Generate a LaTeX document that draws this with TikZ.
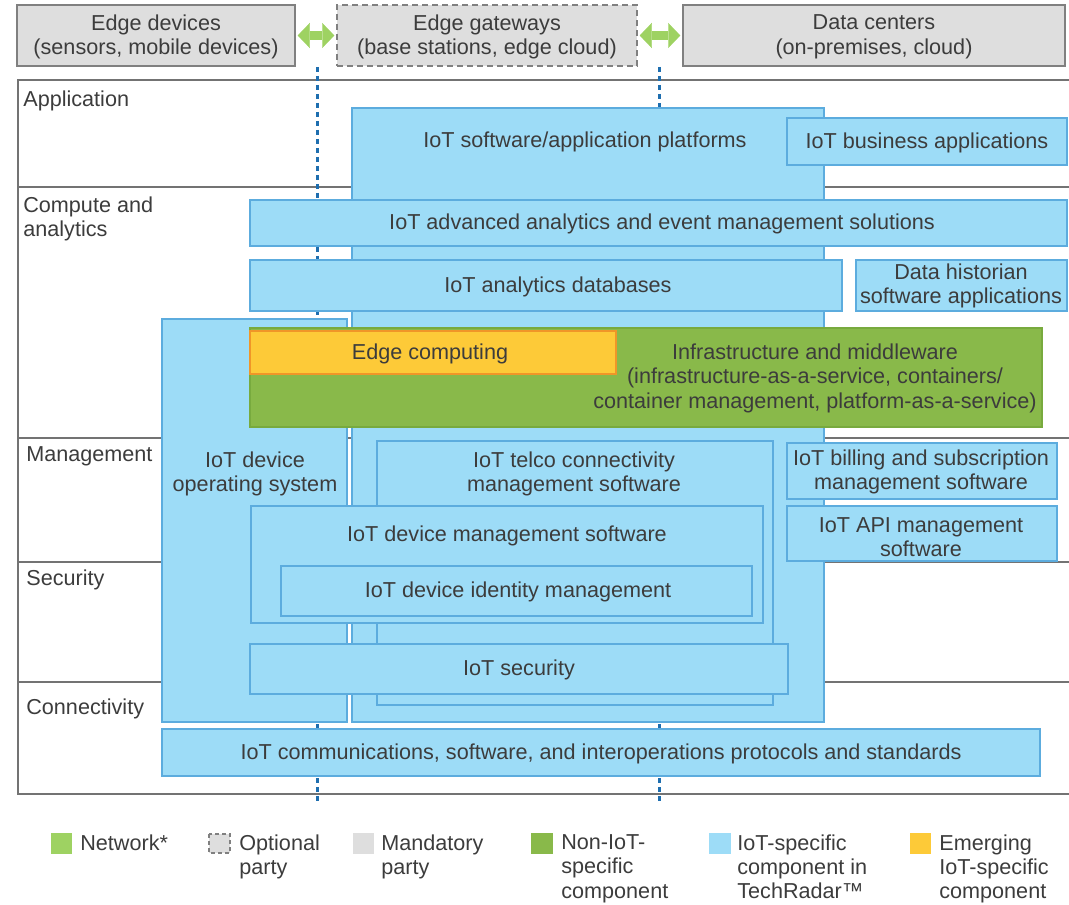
\documentclass[tikz,border=0pt]{standalone}
\usepackage{fontspec}
\setmainfont{Liberation Sans}
\usetikzlibrary{arrows.meta}

\definecolor{iotblue}{RGB}{157,220,247}
\definecolor{iotline}{RGB}{92,172,222}
\definecolor{nongreen}{RGB}{137,185,74}
\definecolor{nonline}{RGB}{120,170,62}
\definecolor{emyellow}{RGB}{253,202,56}
\definecolor{emline}{RGB}{240,150,40}
\definecolor{netgreen}{RGB}{158,210,98}
\definecolor{partygrey}{RGB}{222,222,222}
\definecolor{partyline}{RGB}{128,128,128}
\definecolor{layerline}{RGB}{115,115,115}
\definecolor{dashblue}{RGB}{30,110,175}
\definecolor{txtgrey}{RGB}{60,60,60}

\tikzset{
  iot/.style={fill=iotblue,draw=iotline,line width=0.3mm},
  nonIoT/.style={fill=nongreen,draw=nonline,line width=0.3mm},
  emerging/.style={fill=emyellow,draw=emline,line width=0.4mm},
  lbl/.style={text=txtgrey,font=\fontsize{12.3}{13.9}\selectfont,align=center,inner sep=0pt},
  boxlbl/.style={lbl,yshift=-0.4mm},
  layerlbl/.style={lbl,align=left,anchor=north west},
  keylbl/.style={lbl,align=left,anchor=north west},
  party/.style={lbl,fill=partygrey,draw=partyline,line width=0.3mm,minimum height=12.2mm,text depth=0.3mm},
  network/.style={draw=netgreen,line width=1.8mm,
    {Triangle[length=2.4mm,width=5mm,line width=0.1pt]}-{Triangle[length=2.4mm,width=5mm,line width=0.1pt]},
    shorten <=0.4mm,shorten >=0.4mm},
  netline/.style={draw=dashblue,line width=0.6mm,dash pattern=on 1mm off 0.8mm},
  layer/.style={draw=layerline,line width=0.4mm},
}

\begin{document}
\begin{tikzpicture}[x=0.2mm,y=-0.2mm]
\useasboundingbox (0,0) rectangle (1069,905);

% layers
\draw[layer] (1069,80) -- (18,80) -- (18,794) -- (1069,794);
\foreach \y in {187,438,562,682}{
	\draw[layer] (18,\y) -- (1069,\y);
}
\node[layerlbl] (app) at (23,90) {Application};
\node[layerlbl] (compute) at (23,196) {Compute and\\analytics};
\node[layerlbl] (mgmt) at (26,446) {Management};
\node[layerlbl] (sec) at (26,569) {Security};
\node[layerlbl] (conn) at (26,698) {Connectivity};

% network lines
\coordinate (net1top) at (317,67);
\coordinate (net1bot) at (317,802);
\coordinate (net2top) at (659,67);
\coordinate (net2bot) at (659,802);
\draw[netline] (net1top) -- (net1bot);
\draw[netline] (net2top) -- (net2bot);

% parties
\node[party,minimum width=55.6mm] (edgedev) at (156,35.5) {Edge devices\\(sensors, mobile devices)};
\node[party,dashed,dash pattern=on 1.2mm off 0.8mm,minimum width=60mm] (gateway) at (487,35.5) {Edge gateways\\(base stations, edge cloud)};
\node[party,minimum width=76.4mm] (datacenter) at (874,35.5) {Data centers\\(on-premises, cloud)};
\draw[network] (edgedev) -- (gateway);
\draw[network] (gateway) -- (datacenter);

% components
\draw[iot] (352,108) rectangle (824,722);
\node[boxlbl] (platforms) at (585,140) {IoT software/application platforms};
\draw[iot] (162,319) rectangle (347,722);
\node[boxlbl] (deviceos) at (255,472) {IoT device\\operating system};
\draw[iot] (787,118) rectangle (1067,165);
\node[boxlbl] (bizapps) at (927,141) {IoT business applications};
\draw[iot] (250,200) rectangle (1067,246);
\node[boxlbl] (analytics) at (662,222) {IoT advanced analytics and event management solutions};
\draw[iot] (250,260) rectangle (842,311);
\node[boxlbl] (analyticsdb) at (558,285) {IoT analytics databases};
\draw[iot] (856,260) rectangle (1067,311);
\node[boxlbl] (historian) at (961,284) {Data historian\\software applications};
\draw[nonIoT] (250,328) rectangle (1042,427);
\node[boxlbl] (infra) at (815,376) {Infrastructure and middleware\\(infrastructure-as-a-service, containers/\\container management, platform-as-a-service)};
\draw[emerging] (250,331) rectangle (616,374);
\node[boxlbl] (edgecomp) at (430,352) {Edge computing};
\draw[iot] (377,441) rectangle (773,705);
\node[boxlbl] (telco) at (574,472) {IoT telco connectivity\\management software};
\draw[iot] (787,443) rectangle (1057,499);
\node[boxlbl] (billing) at (921,470) {IoT billing and subscription\\management software};
\draw[iot] (787,506) rectangle (1057,561);
\node[boxlbl] (apimgmt) at (921,535) {IoT API management\\software};
\draw[iot] (251,506) rectangle (763,623);
\node[boxlbl] (devmgmt) at (507,534) {IoT device management software};
\draw[iot] (281,566) rectangle (752,616);
\node[boxlbl] (identity) at (518,590) {IoT device identity management};
\draw[iot] (250,644) rectangle (788,694);
\node[boxlbl] (security) at (519,668) {IoT security};
\draw[iot] (162,729) rectangle (1040,776);
\node[boxlbl] (comms) at (601,752) {IoT communications, software, and interoperations protocols and standards};

% legend
\fill[netgreen] (51,833) rectangle (72,854);
\node[keylbl] (keynet) at (80,834) {Network*};
\draw[fill=partygrey,draw=partyline,line width=0.3mm,dash pattern=on 0.8mm off 0.6mm] (209,834) rectangle (230,853);
\node[keylbl] (keyopt) at (239,834) {Optional\\party};
\fill[partygrey] (353,833) rectangle (374,854);
\node[keylbl] (keymand) at (381,834) {Mandatory\\party};
\fill[nongreen] (531,833) rectangle (553,854);
\node[keylbl] (keynon) at (561,834) {Non-IoT-\\specific\\component};
\fill[iotblue] (709,833) rectangle (731,854);
\node[keylbl] (keyiot) at (737,834) {IoT-specific\\component in\\TechRadar™};
\fill[emyellow] (910,833) rectangle (931,854);
\node[keylbl] (keyem) at (939,834) {Emerging\\IoT-specific\\component};
\end{tikzpicture}
\end{document}
